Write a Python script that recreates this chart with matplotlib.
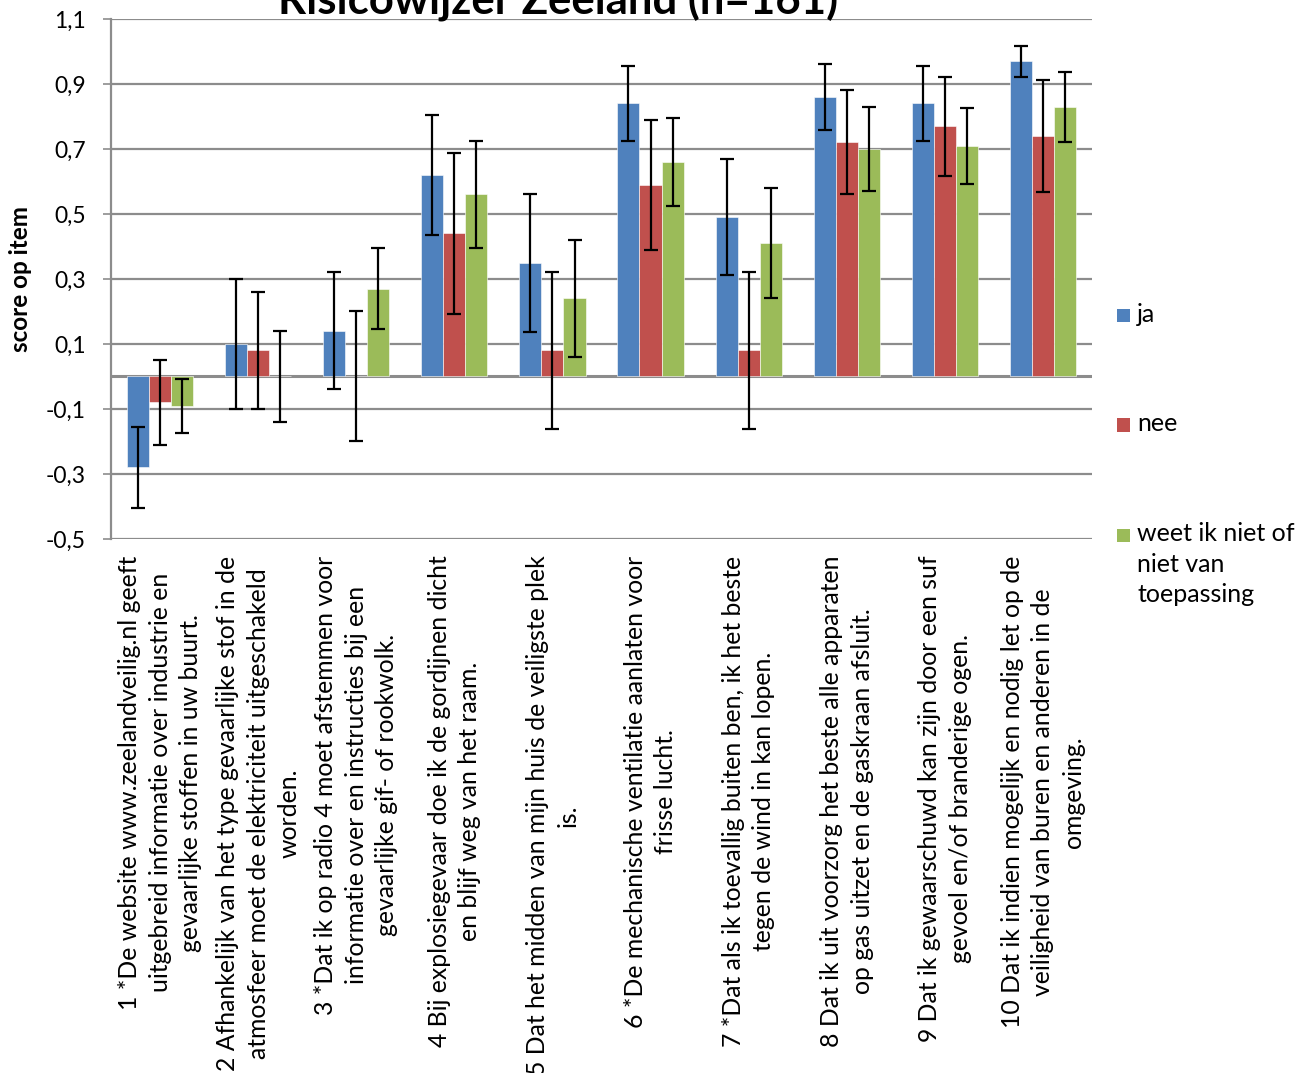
import matplotlib
matplotlib.use('Agg')
import matplotlib.pyplot as plt
from matplotlib.patches import Rectangle
import numpy as np

plt.rcParams['font.family'] = ['Lato', 'DejaVu Sans']

# Data
items = [
    '1 *De website www.zeelandveilig.nl geeft\nuitgebreid informatie over industrie en\ngevaarlijke stoffen in uw buurt.',
    '2 Afhankelijk van het type gevaarlijke stof in de\natmosfeer moet de elektriciteit uitgeschakeld\nworden.',
    '3 *Dat ik op radio 4 moet afstemmen voor\ninformatie over en instructies bij een\ngevaarlijke gif- of rookwolk.',
    '4 Bij explosiegevaar doe ik de gordijnen dicht\nen blijf weg van het raam.',
    '5 Dat het midden van mijn huis de veiligste plek\nis.',
    '6 *De mechanische ventilatie aanlaten voor\nfrisse lucht.',
    '7 *Dat als ik toevallig buiten ben, ik het beste\ntegen de wind in kan lopen.',
    '8 Dat ik uit voorzorg het beste alle apparaten\nop gas uitzet en de gaskraan afsluit.',
    '9 Dat ik gewaarschuwd kan zijn door een suf\ngevoel en/of branderige ogen.',
    '10 Dat ik indien mogelijk en nodig let op de\nveiligheid van buren en anderen in de\nomgeving.',
]
series_names = ['ja', 'nee', 'weet ik niet of\nniet van\ntoepassing']

ja = [-0.28, 0.10, 0.14, 0.62, 0.35, 0.84, 0.49, 0.86, 0.84, 0.97]
nee = [-0.08, 0.08, 0.00, 0.44, 0.08, 0.59, 0.08, 0.72, 0.77, 0.74]
weet = [-0.09, 0.00, 0.27, 0.56, 0.24, 0.66, 0.41, 0.70, 0.71, 0.83]

ja_err = [0.125, 0.20, 0.18, 0.186, 0.212, 0.116, 0.179, 0.102, 0.116, 0.048]
nee_err = [0.13, 0.18, 0.20, 0.247, 0.243, 0.20, 0.243, 0.16, 0.153, 0.172]
weet_err = [0.083, 0.14, 0.125, 0.165, 0.18, 0.136, 0.169, 0.128, 0.117, 0.107]

yticks = [-0.5, -0.3, -0.1, 0.1, 0.3, 0.5, 0.7, 0.9, 1.1]
ytick_labels = ['-0,5', '-0,3', '-0,1', '0,1', '0,3', '0,5', '0,7', '0,9', '1,1']

colors = ['#4F81BD', '#C0504D', '#9BBB59']
grid_color = '#8C8C8C'

fig = plt.figure(figsize=(13.09, 10.73), dpi=100)
ax = fig.add_axes([0.0848, 0.4977, 0.7494, 0.4846])

x = np.arange(len(items))
w = 0.225
values = [ja, nee, weet]
errors = [ja_err, nee_err, weet_err]
for k in range(3):
    ax.bar(x + (k - 1) * w, values[k], w, color=colors[k], zorder=2,
           edgecolor='white', linewidth=0.4)
    ax.errorbar(x + (k - 1) * w, values[k], yerr=errors[k], fmt='none',
                ecolor='black', elinewidth=1.6, capsize=4.8, capthick=1.6,
                zorder=3)

ax.set_xlim(-0.5, len(items) - 0.5)
ax.set_ylim(-0.5, 1.1)
ax.set_yticks(yticks)
ax.set_yticklabels(ytick_labels, fontsize=16.5)
ax.yaxis.grid(True, color=grid_color, linewidth=1.6, zorder=0)
ax.set_axisbelow(True)
ax.axhline(0, color=grid_color, linewidth=2.2, zorder=1)
ax.tick_params(axis='y', length=6, width=1.2, color=grid_color, pad=12)

ax.set_xticks(x)
ax.set_xticklabels(items, rotation=90, fontsize=17.8, ha='center', va='top',
                   multialignment='center', linespacing=1.4)
ax.tick_params(axis='x', length=0, pad=12)

for side in ['top', 'right', 'bottom']:
    ax.spines[side].set_visible(False)
ax.spines['left'].set_color(grid_color)
ax.spines['left'].set_linewidth(1.6)

ax.set_ylabel('score op item', fontsize=17.5, fontweight='bold', labelpad=10)

fig.text(558 / 1309, 1 - 15 / 1073, 'Risicowijzer Zeeland (n=161)',
         ha='center', va='baseline', fontsize=31.5, fontweight='bold')

# legend on the right, square aligned with the first text line
legend_y = [316, 425, 535]
for k in range(3):
    yy = 1 - legend_y[k] / 1073
    fig.patches.append(Rectangle((1117 / 1309, yy - 6.5 / 1073), 13 / 1309, 13 / 1073,
                                 facecolor=colors[k], edgecolor='none',
                                 transform=fig.transFigure, figure=fig))
    fig.text(1137 / 1309, yy + 13 / 1073, series_names[k], ha='left', va='top',
             fontsize=18, linespacing=1.4)

fig.savefig('out.png', dpi=100)
